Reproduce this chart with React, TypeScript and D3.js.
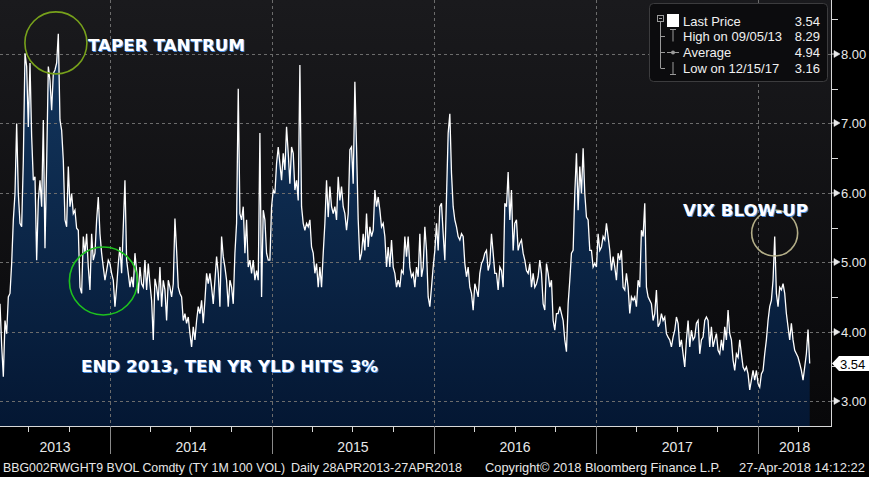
import React, {useEffect, useRef} from 'react';
import * as d3 from 'd3';

// BVOL TY 1M 100 vol, daily 28APR2013-27APR2018 in six stretches
const volMay13Feb14 = [
  4.4, 3.8, 3.35, 4.16, 3.97, 4.5, 4.55, 4.98, 5.61, 5.99, 7.0, 5.99, 5.56, 5.51, 6.47, 8.01,
  7.82, 6.95, 7.87, 6.81, 6.18, 6.23, 5.03, 5.89, 6.18, 5.8, 7.05, 5.2, 6.42, 7.82, 7.62, 7.19,
  7.72, 7.77, 7.87, 8.29, 7.05, 6.9, 6.47, 5.61, 5.51, 6.38, 5.8, 5.99, 5.7, 5.75, 5.49, 5.46,
  4.64, 4.55, 5.37, 5.13, 5.41, 4.93, 4.6, 5.41, 5.03, 5.13, 5.61, 5.94, 5.41, 5.13, 4.93, 4.74,
  4.88, 5.03, 4.98, 4.84, 4.74, 4.36, 4.64, 4.98, 5.22, 4.84, 5.51, 6.18, 5.03, 4.84, 4.64, 4.79,
  4.64,
];
const volFeb14Dec14 = [
  5.13, 4.88, 4.55, 4.93, 4.69, 4.64, 5.03, 4.6, 4.98, 4.69, 4.45, 3.88, 4.76, 4.64, 4.45, 4.93,
  4.36, 4.74, 4.6, 4.16, 4.74, 4.64, 4.5, 4.69, 5.63, 5.17, 4.64, 4.55, 4.5, 4.16, 4.26, 4.12,
  4.21, 3.97, 3.78, 4.07, 3.88, 4.16, 4.36, 4.26, 4.45, 4.12, 4.45, 4.84, 4.69, 4.84, 4.64, 4.4,
  4.74, 5.08, 4.84, 4.36, 5.37, 5.08, 4.93, 4.74, 4.36, 4.74, 4.64, 4.4, 5.13, 5.56, 7.5, 5.7,
  5.61, 5.8, 5.13, 5.61, 4.93, 5.03, 4.84, 5.03, 4.74, 4.88, 4.74, 6.86, 4.5, 5.75, 5.61, 5.13,
  5.03,
];
const volDec14Oct15 = [
  5.03, 5.8, 6.04, 5.99, 6.42, 6.66, 6.42, 6.18, 6.57, 6.33, 6.95, 6.57, 6.13, 6.66, 6.57, 6.04,
  6.18, 5.89, 7.84, 5.8, 5.56, 5.46, 5.56, 5.51, 5.61, 5.22, 5.13, 4.84, 4.98, 4.64, 4.93, 4.64,
  5.13, 5.56, 6.18, 5.65, 6.09, 5.8, 5.7, 5.8, 5.61, 6.23, 5.89, 6.09, 5.8, 5.7, 5.46, 5.7,
  6.62, 6.66, 6.13, 7.6, 6.66, 5.61, 5.03, 5.13, 5.41, 5.17, 5.7, 5.22, 5.51, 5.37, 5.46, 6.04,
  5.8, 5.94, 5.75, 5.51, 5.56, 5.37, 4.93, 5.22, 4.93, 5.32, 4.93, 4.84, 4.64, 4.74, 4.64, 4.88,
  4.84,
];
const volOct15Aug16 = [
  5.37, 5.08, 5.37, 4.93, 4.79, 4.84, 4.64, 4.93, 4.79, 5.41, 4.79, 4.93, 5.51, 5.17, 4.5, 4.36,
  4.64, 4.93, 5.17, 5.56, 5.17, 5.8, 5.85, 5.41, 5.03, 5.94, 6.86, 7.14, 6.28, 5.8, 5.61, 5.51,
  5.37, 5.32, 5.41, 5.37, 4.98, 4.79, 4.93, 4.64, 4.55, 4.31, 4.69, 4.6, 4.5, 4.84, 4.98, 5.03,
  5.13, 5.17, 4.88, 4.98, 5.41, 5.13, 4.84, 4.84, 4.6, 4.93, 4.88, 4.64, 5.85, 5.8, 6.3, 5.61,
  6.04, 5.17, 5.56, 5.61, 5.17, 5.27, 5.32, 5.13, 5.03, 4.88, 4.84, 4.98, 4.64, 4.84, 4.64, 4.69,
  4.79,
];
const volAug16Jun17 = [
  5.03, 4.84, 4.4, 4.31, 4.98, 4.84, 4.64, 4.74, 4.16, 4.02, 4.26, 4.26, 4.36, 4.26, 4.16, 3.88,
  3.71, 4.4, 4.74, 5.13, 5.17, 5.99, 6.57, 5.75, 6.38, 5.99, 6.64, 5.99, 5.65, 5.61, 5.17, 5.17,
  4.93, 4.98, 4.93, 5.41, 5.17, 5.22, 5.37, 5.32, 5.56, 5.37, 5.17, 4.88, 5.08, 4.93, 4.74, 5.13,
  5.03, 5.17, 4.64, 4.6, 4.84, 4.64, 4.26, 4.5, 4.45, 4.5, 4.36, 4.74, 4.64, 5.46, 5.37, 5.85,
  4.64, 4.5, 4.45, 4.4, 4.16, 4.26, 4.6, 4.07, 4.12, 4.26, 4.16, 4.21, 3.97, 3.92, 3.88, 3.78,
  3.92,
];
const volJun17Apr18 = [
  4.02, 4.21, 4.12, 3.78, 3.88, 3.68, 3.49, 3.88, 4.16, 3.78, 4.02, 3.88, 3.92, 4.12, 4.16, 3.68,
  3.88, 3.92, 4.16, 4.21, 4.16, 3.78, 4.07, 3.78, 3.88, 3.97, 3.73, 3.68, 3.88, 3.73, 4.07, 3.88,
  4.31, 3.97, 3.88, 3.59, 3.44, 3.68, 3.63, 3.88, 3.68, 3.49, 3.44, 3.49, 3.39, 3.16, 3.3, 3.44,
  3.3, 3.44, 3.25, 3.2, 3.39, 3.44, 3.68, 3.88, 4.16, 4.36, 4.45, 4.74, 5.37, 4.55, 4.36, 4.64,
  4.6, 4.69, 4.55, 4.26, 4.07, 3.88, 4.12, 3.88, 3.73, 3.68, 3.63, 3.54, 3.44, 3.3, 3.49, 3.68,
  4.03, 3.54,
];

const firstDay = new Date(2013, 3, 28);
const lastDay = new Date(2018, 3, 27);
const axisEnd = new Date(2018, 5, 14);

const yTicks = [3, 4, 5, 6, 7, 8];
const yMinorTicks = [3.5, 4.5, 5.5, 6.5, 7.5, 8.5];
const years = [2013, 2014, 2015, 2016, 2017, 2018];

const legendRows = [
  {label: 'Last Price', value: '3.54'},
  {label: 'High on 09/05/13', value: '8.29'},
  {label: 'Average', value: '4.94'},
  {label: 'Low on 12/15/17', value: '3.16'},
];
const lastPrice = 3.54;

const annotations = [
  {text: 'TAPER TANTRUM', x: 88, y: 51, len: 157},
  {text: 'END 2013, TEN YR YLD HITS 3%', x: 81, y: 372, len: 297},
  {text: 'VIX BLOW-UP', x: 683, y: 216, len: 125},
];
const rings = [
  {date: new Date(2013, 8, 1), value: 8.16, r: 31, color: '#77a11b'},
  {date: new Date(2013, 11, 17), value: 4.73, r: 34, color: '#1ec21e'},
  {date: new Date(2018, 1, 7), value: 5.42, r: 23, color: '#b3ae88'},
];

const footer = [
  {text: 'BBG002RWGHT9 BVOL Comdty (TY 1M 100 VOL)', x: 3, len: 282},
  {text: 'Daily 28APR2013-27APR2018', x: 291, len: 171},
  {text: 'Copyright\u00a9 2018 Bloomberg Finance L.P.', x: 485, len: 236},
  {text: '27-Apr-2018 14:12:22', x: 739, len: 126},
];

const App: React.FC = () => {
  const ref = useRef<SVGSVGElement | null>(null);

  useEffect(() => {
    if (!ref.current) return;
    document.body.style.margin = '0';
    document.body.style.background = '#000';

    const width = 869;
    const height = 477;
    const plotRight = 831;
    const plotBottom = 426;
    const font = '"Liberation Sans", Arial, sans-serif';
    const narrow = '"Liberation Sans Narrow", "Arial Narrow", "Liberation Sans", sans-serif';

    const values = [
      ...volMay13Feb14,
      ...volFeb14Dec14,
      ...volDec14Oct15,
      ...volOct15Aug16,
      ...volAug16Jun17,
      ...volJun17Apr18,
    ];
    // trading days spread evenly over the window
    const dayAt = d3
      .scaleLinear()
      .domain([0, values.length - 1])
      .range([firstDay.getTime(), lastDay.getTime()]);
    const data = values.map((v, i) => ({date: new Date(dayAt(i)), value: v}));

    const x = d3.scaleTime().domain([firstDay, axisEnd]).range([0, plotRight]);
    const y = d3.scaleLinear().domain([3, 8]).range([401, 54]);

    const svg = d3.select(ref.current);
    svg.selectAll('*').remove();
    svg.attr('width', width).attr('height', height).attr('viewBox', [0, 0, width, height]);

    const defs = svg.append('defs');
    const bg = defs
      .append('linearGradient')
      .attr('id', 'bg')
      .attr('gradientUnits', 'userSpaceOnUse')
      .attr('x1', 0).attr('y1', 0).attr('x2', 0).attr('y2', plotBottom);
    bg.append('stop').attr('offset', 0).attr('stop-color', '#1a1a1d');
    bg.append('stop').attr('offset', 1).attr('stop-color', '#08080a');
    const fill = defs
      .append('linearGradient')
      .attr('id', 'fill')
      .attr('gradientUnits', 'userSpaceOnUse')
      .attr('x1', 0).attr('y1', 0).attr('x2', 0).attr('y2', plotBottom);
    fill.append('stop').attr('offset', 0).attr('stop-color', '#153a63');
    fill.append('stop').attr('offset', 1).attr('stop-color', '#041733');

    svg.append('rect').attr('width', width).attr('height', height).attr('fill', '#000');
    svg.append('rect').attr('width', plotRight).attr('height', plotBottom).attr('fill', 'url(#bg)');

    // area + line
    const area = d3
      .area<{date: Date; value: number}>()
      .x((d) => x(d.date))
      .y0(plotBottom)
      .y1((d) => y(d.value));
    const line = d3
      .line<{date: Date; value: number}>()
      .x((d) => x(d.date))
      .y((d) => y(d.value));

    svg.append('path').datum(data).attr('d', area).attr('fill', 'url(#fill)');

    // grid
    const grid = svg.append('g').attr('stroke', '#6c6c6c').attr('stroke-dasharray', '3,3').attr('stroke-width', 1);
    grid
      .selectAll('line.h')
      .data(yTicks)
      .join('line')
      .attr('x1', 0)
      .attr('x2', plotRight)
      .attr('y1', (d) => Math.round(y(d)) + 0.5)
      .attr('y2', (d) => Math.round(y(d)) + 0.5);
    const yearStarts = years.slice(1).map((yr) => new Date(yr, 0, 1));
    grid
      .selectAll('line.v')
      .data(yearStarts)
      .join('line')
      .attr('x1', (d) => Math.round(x(d)) + 0.5)
      .attr('x2', (d) => Math.round(x(d)) + 0.5)
      .attr('y1', 0)
      .attr('y2', plotBottom);

    svg
      .append('path')
      .datum(data)
      .attr('d', line)
      .attr('fill', 'none')
      .attr('stroke', '#ffffff')
      .attr('stroke-width', 1.3)
      .attr('stroke-linejoin', 'miter');

    // annotations
    rings.forEach((c) => {
      svg
        .append('circle')
        .attr('cx', x(c.date))
        .attr('cy', y(c.value))
        .attr('r', c.r)
        .attr('fill', 'none')
        .attr('stroke', c.color)
        .attr('stroke-width', 1.6);
    });
    annotations.forEach((a) => {
      [
        {dx: 1, dy: 1, color: '#4a8ee0'},
        {dx: 0, dy: 0, color: '#ffffff'},
      ].forEach((layer) => {
        svg
          .append('text')
          .attr('x', a.x + layer.dx)
          .attr('y', a.y + layer.dy)
          .attr('textLength', a.len)
          .attr('lengthAdjust', 'spacingAndGlyphs')
          .attr('fill', layer.color)
          .style('font', `bold 16px "DejaVu Sans", Verdana, sans-serif`)
          .text(a.text);
      });
    });

    // right axis
    const axisG = svg.append('g').attr('stroke', '#d8d8d8');
    axisG.append('line').attr('x1', plotRight + 0.5).attr('x2', plotRight + 0.5).attr('y1', 0).attr('y2', plotBottom + 1);
    axisG
      .selectAll('line.minor')
      .data(yMinorTicks)
      .join('line')
      .attr('x1', plotRight)
      .attr('x2', plotRight + 7)
      .attr('y1', (d) => Math.round(y(d)) + 0.5)
      .attr('y2', (d) => Math.round(y(d)) + 0.5);
    yTicks.forEach((t) => {
      const ty = Math.round(y(t)) + 0.5;
      svg
        .append('path')
        .attr('d', `M${plotRight},${ty - 0.5}h3l0,-3.5l6,3.5l-6,3.5l0,-3.5z`)
        .attr('fill', '#e8e8e8')
        .attr('stroke', '#e8e8e8')
        .attr('stroke-width', 0.5);
      svg
        .append('text')
        .attr('x', plotRight + 10)
        .attr('y', ty + 4.5)
        .attr('fill', '#e8e8e8')
        .style('font', `13px ${font}`)
        .text(d3.format('.2f')(t));
    });

    // last price tag
    const ly = y(lastPrice);
    svg
      .append('path')
      .attr('d', `M${plotRight + 1},${ly}l7,-7.5h${width - plotRight - 8}v15h${-(width - plotRight - 8)}z`)
      .attr('fill', '#ffffff');
    svg
      .append('text')
      .attr('x', plotRight + 9)
      .attr('y', ly + 5)
      .attr('fill', '#000')
      .style('font', `13px ${font}`)
      .text(d3.format('.2f')(lastPrice));

    // bottom axis
    const bottom = svg.append('g');
    bottom
      .append('line')
      .attr('x1', 0)
      .attr('x2', plotRight + 1)
      .attr('y1', plotBottom + 0.5)
      .attr('y2', plotBottom + 0.5)
      .attr('stroke', '#d8d8d8');
    const quarters = d3.timeMonth.every(3)!.range(firstDay, axisEnd).filter((d) => d.getMonth() !== 0);
    bottom
      .selectAll('line.q')
      .data(quarters)
      .join('line')
      .attr('x1', (d) => Math.round(x(d)) + 0.5)
      .attr('x2', (d) => Math.round(x(d)) + 0.5)
      .attr('y1', plotBottom)
      .attr('y2', plotBottom + 6)
      .attr('stroke', '#d8d8d8');
    bottom
      .selectAll('line.yr')
      .data(yearStarts)
      .join('line')
      .attr('x1', (d) => Math.round(x(d)) + 0.5)
      .attr('x2', (d) => Math.round(x(d)) + 0.5)
      .attr('y1', plotBottom)
      .attr('y2', 454)
      .attr('stroke', '#8a8a8a');
    bottom
      .selectAll('text.yr')
      .data(years)
      .join('text')
      .attr('x', (yr) => {
        const a = Math.max(0, x(new Date(yr, 0, 1)));
        const b = Math.min(plotRight, x(new Date(yr + 1, 0, 1)));
        return (a + b) / 2;
      })
      .attr('y', 452)
      .attr('text-anchor', 'middle')
      .attr('fill', '#e8e8e8')
      .style('font', `14px ${narrow}`)
      .text((yr) => String(yr));

    // footer
    footer.forEach((f) => {
      svg
        .append('text')
        .attr('x', f.x)
        .attr('y', 472)
        .attr('textLength', f.len)
        .attr('lengthAdjust', 'spacingAndGlyphs')
        .attr('fill', '#e8e8e8')
        .style('font', `13px ${narrow}`)
        .text(f.text);
    });

    // legend
    const lg = svg.append('g');
    lg.append('rect')
      .attr('x', 649.5)
      .attr('y', 3.5)
      .attr('width', 178)
      .attr('height', 78)
      .attr('rx', 4)
      .attr('fill', '#0c0c0e')
      .attr('stroke', '#3c3c3e');
    const rowY = [21, 36, 52, 68];
    const gray = '#9a9a9a';
    lg.append('rect').attr('x', 657.5).attr('y', 15.5).attr('width', 6).attr('height', 6).attr('fill', 'none').attr('stroke', gray);
    lg.append('line').attr('x1', 659).attr('x2', 662).attr('y1', 18.5).attr('y2', 18.5).attr('stroke', gray);
    lg.append('line').attr('x1', 660.5).attr('x2', 660.5).attr('y1', 22).attr('y2', rowY[3]).attr('stroke', gray);
    rowY.slice(1).forEach((ry) => {
      lg.append('line').attr('x1', 660.5).attr('x2', 665).attr('y1', ry + 0.5).attr('y2', ry + 0.5).attr('stroke', gray);
    });
    lg.append('rect').attr('x', 667).attr('y', 14).attr('width', 12).attr('height', 13).attr('fill', '#fff');
    // high marker
    lg.append('path').attr('d', `M670,${rowY[1] - 6.5}h6M673,${rowY[1] - 6.5}v12`).attr('stroke', gray).attr('fill', 'none');
    // average marker
    lg.append('path').attr('d', `M667,${rowY[2] + 0.5}h12`).attr('stroke', gray);
    lg.append('circle').attr('cx', 673).attr('cy', rowY[2] + 0.5).attr('r', 2).attr('fill', gray);
    // low marker
    lg.append('path').attr('d', `M673,${rowY[3] - 6}v12M670,${rowY[3] + 6.5}h6`).attr('stroke', gray).attr('fill', 'none');

    lg.selectAll('text.label')
      .data(legendRows)
      .join('text')
      .attr('x', 683)
      .attr('y', (_, i) => rowY[i] + 5)
      .attr('fill', '#f0f0f0')
      .style('font', `13px ${font}`)
      .text((d) => d.label);
    lg.selectAll('text.value')
      .data(legendRows)
      .join('text')
      .attr('x', 820)
      .attr('y', (_, i) => rowY[i] + 5)
      .attr('text-anchor', 'end')
      .attr('fill', '#f0f0f0')
      .style('font', `13px ${font}`)
      .text((d) => d.value);
  }, []);

  return <svg ref={ref} style={{display: 'block'}} />;
};

export default App;
